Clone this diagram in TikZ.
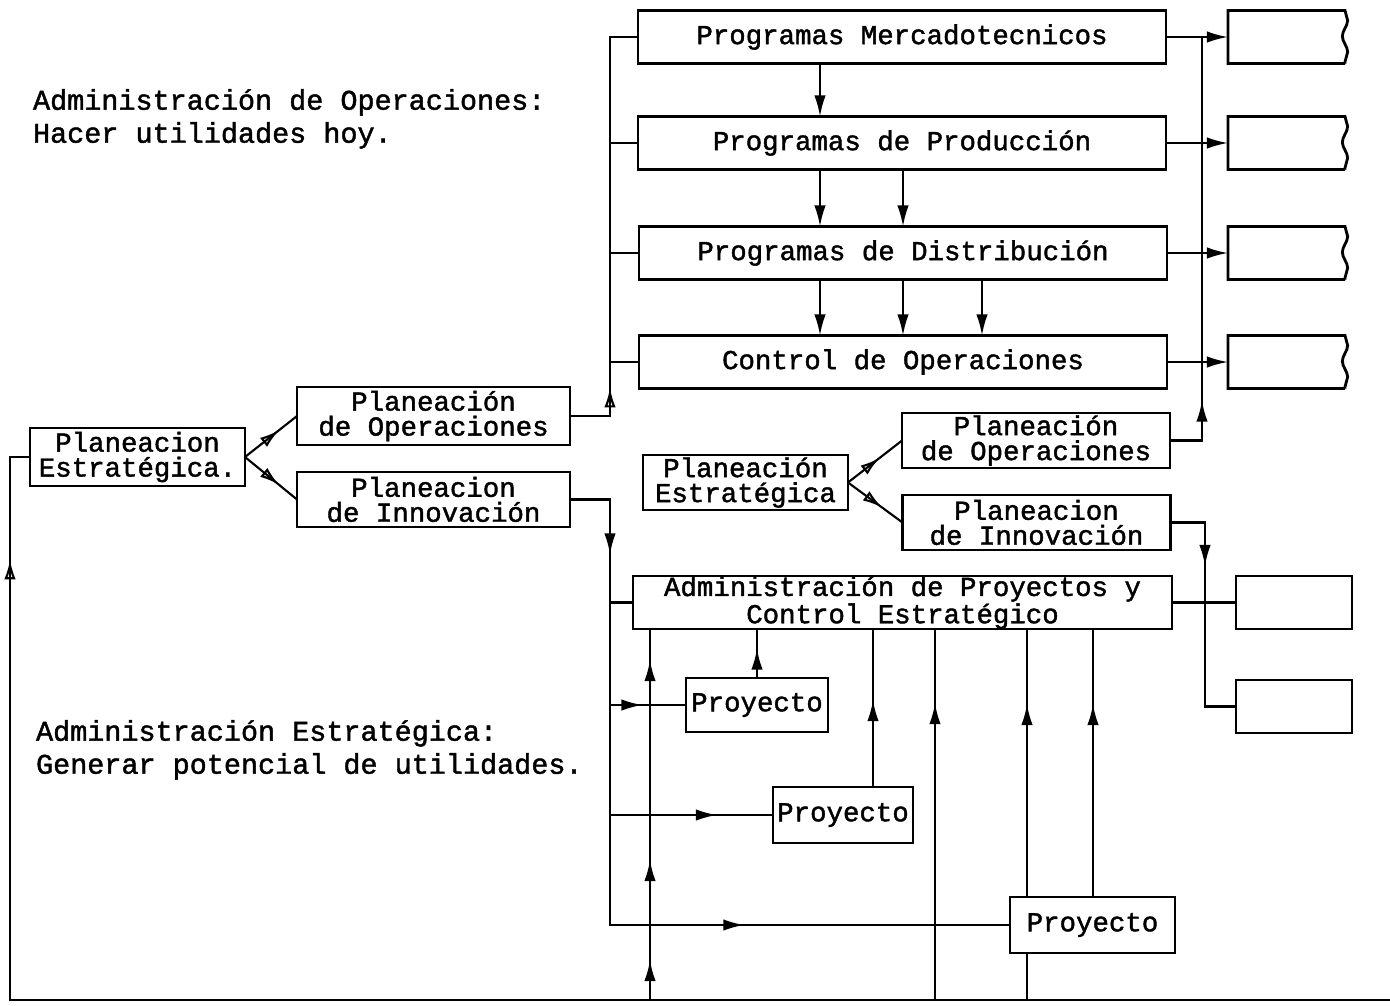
\documentclass[tikz,border=0pt]{standalone}
\usepackage{fontspec}
\usepackage{tikz}
\usetikzlibrary{arrows.meta}
\usetikzlibrary{decorations.markings}
\usetikzlibrary{decorations.pathmorphing}
\newfontfamily\typew{Liberation Mono}[FakeBold=1.5]
\newcommand\boxfont{\typew\fontsize{15.6}{14.2}\selectfont}
\newcommand\notefont{\typew\fontsize{16.2}{18.8}\selectfont}
\tikzset{
    box/.style = {rectangle, draw, line width=1.6pt, inner sep=0pt, outer sep=0pt, align=center, font=\boxfont},
    prog/.style = {box, minimum width=10.56cm, minimum height=1.06cm},
    plan/.style = {box, minimum width=5.36cm, minimum height=1.1cm},
    stub/.style = {rectangle, minimum width=2.34cm, minimum height=1.06cm, outer sep=0pt},
    note/.style = {anchor=north west, align=left, inner sep=0pt, font=\notefont}}

\begin{document}
\begin{tikzpicture}[x=0.02cm, y=-0.02cm, line width=1.2pt,
    >={Latex[length=12pt,width=6.5pt]},
    mid/.style={postaction={decorate}, decoration={markings, mark=at position #1 with {\arrow{>}}}},
    omid/.style={postaction={decorate}, decoration={markings, mark=at position #1 with {\arrow{Latex[open,length=11pt,width=6.5pt]}}}}
    ]
    \useasboundingbox (0,0) rectangle (1390,1005);
    \node[note] (AO) at (32,88) {Administración de Operaciones:\\Hacer utilidades hoy.};
    \node[note] (AE) at (35,719) {Administración Estratégica:\\Generar potencial de utilidades.};

    \node[box, minimum width=4.3cm, minimum height=1.16cm] (PEl) at (137.5,457) {Planeacion\\Estratégica.};
    \node[plan, minimum width=5.46cm, minimum height=1.16cm] (POl) at (433.5,416) {Planeación\\de Operaciones};
    \node[plan, minimum width=5.46cm] (PIl) at (433.5,499.5) {Planeacion\\de Innovación};

    \node[prog] (PM) at (902,37) {Programas Mercadotecnicos};
    \node[prog] (PP) at (902,143) {Programas de Producción};
    \node[prog] (PD) at (903,253) {Programas de Distribución};
    \node[prog] (CO) at (903,362) {Control de Operaciones};
    \foreach \n/\y in {R1/37,R2/143,R3/253,R4/362}
        \node[stub] (\n) at (1286.5,\y) {};
    \foreach \n in {R1,R2,R3,R4}
        \draw[line width=1.6pt] (\n.south east) -- (\n.south west) -- (\n.north west) -- (\n.north east)
            decorate[decoration={snake, amplitude=1.5pt, segment length=18pt}] {-- (\n.south east)};

    \node[box, minimum width=4.1cm, minimum height=1.1cm] (PEr) at (745.5,482.5) {Planeación\\Estratégica};
    \node[plan] (POr) at (1036,440.5) {Planeación\\de Operaciones};
    \node[plan] (PIr) at (1036.5,522.5) {Planeacion\\de Innovación};

    \node[box, minimum width=10.78cm, minimum height=1.02cm] (APC) at (902.5,602.5) {Administración de Proyectos y\\Control Estratégico};
    \node[box, minimum width=2.32cm, minimum height=1.06cm] (S1) at (1294,602.5) {};
    \node[box, minimum width=2.32cm, minimum height=1.06cm] (S2) at (1294,706.5) {};
    \node[box, minimum width=2.84cm, minimum height=1.08cm] (P1) at (757,705) {Proyecto};
    \node[box, minimum width=2.8cm, minimum height=1.12cm] (P2) at (843,815) {Proyecto};
    \node[box, minimum width=3.3cm, minimum height=1.12cm] (P3) at (1092.5,925) {Proyecto};

    \coordinate (busL) at (610,0);
    \coordinate (busR) at (1202,0);
    \coordinate (busS) at (1205,0);
    \coordinate (baseL) at (10,1000);
    \coordinate (baseR) at (1390,1000);

    \draw[omid=0.65] (PEl.east) -- (POl.west);
    \draw[omid=0.65] (PEl.east) -- (PIl.west);
    \draw[omid=0.58] (PEr.east) -- (POr.west);
    \draw[omid=0.62] (PEr.east) -- (PIr.west);

    \draw[omid=1.36cm] (POl.east) -| (busL |- PM.west) -- (PM.west);
    \foreach \b in {PP,PD,CO}
        \draw (busL |- \b.west) -- (\b.west);
    \foreach \x in {820}
        \draw[->] (\x,0 |- PM.south) -- (\x,0 |- PP.north);
    \foreach \x in {820,903}
        \draw[->] (\x,0 |- PP.south) -- (\x,0 |- PD.north);
    \foreach \x in {820,903,982}
        \draw[->] (\x,0 |- PD.south) -- (\x,0 |- CO.north);
    \draw[mid=1.44cm] (POr.east) -| (busR |- PM.east);
    \foreach \b/\s in {PM/R1,PP/R2,PD/R3,CO/R4}
        \draw[->] (\b.east) -- (\s.west);

    \draw[postaction={decorate}, decoration={markings,
            mark=at position 1.9cm with {\arrow{>}},
            mark=at position 12cm with {\arrow{>}}}]
        (PIl.east) -| (busL |- P3.west) -- (P3.west);
    \draw (busL |- APC.west) -- (APC.west);
    \draw[mid=0.65cm] (busL |- P1.west) -- (P1.west);
    \draw[mid=2.14cm] (busL |- P2.west) -- (P2.west);

    \draw[postaction={decorate}, decoration={markings,
            mark=at position 0.8cm with {\arrow{>}},
            mark=at position 2.8cm with {\arrow{>}},
            mark=at position 6.8cm with {\arrow{>}}}]
        (650,0 |- baseL) -- (650,0 |- APC.south);
    \draw[mid=0.6] (P1.north) -- (P1.north |- APC.south);
    \draw[mid=0.55] (873,0 |- P2.north) -- (873,0 |- APC.south);
    \draw[mid=0.8] (935,0 |- baseL) -- (935,0 |- APC.south);
    \draw[mid=0.72] (1027,0 |- P3.north) -- (1027,0 |- APC.south);
    \draw[mid=0.72] (1093,0 |- P3.north) -- (1093,0 |- APC.south);
    \draw (1027,0 |- P3.south) -- (1027,0 |- baseL);
    \draw[omid=-2.46cm] (baseR) -- (baseL) |- (PEl.west);

    \draw (APC.east) -- (S1.west);
    \draw[mid=1.56cm] (PIr.east) -| (busS |- S2.west) -- (S2.west);
\end{tikzpicture}
\end{document}
